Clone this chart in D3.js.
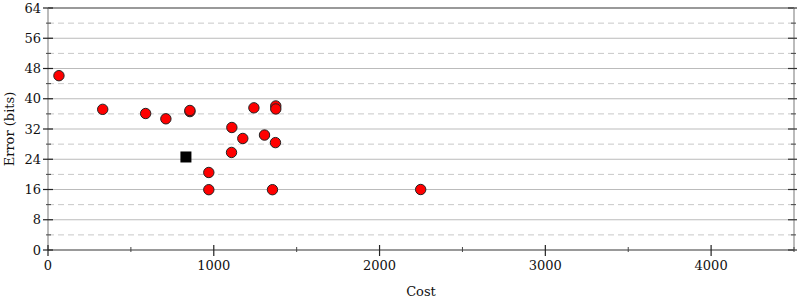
<!DOCTYPE html>
<html lang="en">
<head>
<meta charset="utf-8">
<script src="https://d3js.org/d3.v7.min.js"></script>
<style type="text/css">
body{
  margin: 0;
  padding: 0;
  background: white;
}
text{
  font-family: "DejaVu Serif", serif;
}
</style>
</head>
<body>
<div id="chart"></div>

<script type="text/javascript">

// red circles: cost vs error
var costs  = [66, 330, 589, 711, 856, 856, 1109, 1175, 1242, 1306, 1374, 1374, 1372, 1107, 970, 970, 1354, 2248];
var errors = [46.1, 37.2, 36.1, 34.7, 36.6, 36.9, 32.4, 29.5, 37.6, 30.4, 38.1, 37.3, 28.4, 25.8, 20.5, 15.95, 15.95, 16.0];

// black square
var refCost = [832];
var refError = [24.6];

var xTicks = [0, 1000, 2000, 3000, 4000];
var xMinor = [500, 1500, 2500, 3500, 4500];
var yTicks = [0, 8, 16, 24, 32, 40, 48, 56, 64];
var yMinor = [4, 12, 20, 28, 36, 44, 52, 60];

var width = 800, height = 300;
var padL = 48, padR = 794, padT = 8, padB = 250;

var svg = d3.select("#chart").append("svg")
  .attr("width", width)
  .attr("height", height);

var x = d3.scaleLinear().domain([0, 4500]).range([padL, padR]);
var y = d3.scaleLinear().domain([0, 64]).range([padB, padT]);

// grid
svg.selectAll(".gmin").data(yMinor).enter().append("line")
  .attr("x1", padL).attr("x2", padR)
  .attr("y1", d => y(d)).attr("y2", d => y(d))
  .attr("stroke", "#c8c8c8").attr("stroke-width", 1)
  .attr("stroke-dasharray", "6,4");

svg.selectAll(".gmaj").data(yTicks.slice(1, -1)).enter().append("line")
  .attr("x1", padL).attr("x2", padR)
  .attr("y1", d => y(d)).attr("y2", d => y(d))
  .attr("stroke", "#bbbbbb").attr("stroke-width", 1);

// frame
svg.append("line").attr("x1", padL).attr("x2", padR).attr("y1", padT).attr("y2", padT)
  .attr("stroke", "#999").attr("stroke-width", 2);
svg.append("line").attr("x1", padR).attr("x2", padR).attr("y1", padT).attr("y2", padB)
  .attr("stroke", "#bbb").attr("stroke-width", 2);
svg.append("line").attr("x1", padL).attr("x2", padL).attr("y1", padT).attr("y2", padB)
  .attr("stroke", "#bbb").attr("stroke-width", 2);
svg.append("line").attr("x1", padL).attr("x2", padR).attr("y1", padB).attr("y2", padB)
  .attr("stroke", "#999").attr("stroke-width", 2);

// y ticks left
svg.selectAll(".ytk").data(yTicks).enter().append("line")
  .attr("x1", padL - 5).attr("x2", padL + 5)
  .attr("y1", d => y(d)).attr("y2", d => y(d))
  .attr("stroke", "#222").attr("stroke-width", 1.2);
svg.selectAll(".ytm").data(yMinor).enter().append("line")
  .attr("x1", padL - 2).attr("x2", padL + 3)
  .attr("y1", d => y(d)).attr("y2", d => y(d))
  .attr("stroke", "#444").attr("stroke-width", 1);

// y ticks right
svg.selectAll(".ytr").data(yTicks).enter().append("line")
  .attr("x1", padR - 6).attr("x2", padR + 3)
  .attr("y1", d => y(d)).attr("y2", d => y(d))
  .attr("stroke", "#333").attr("stroke-width", 1.2);
svg.selectAll(".ytrm").data(yMinor).enter().append("line")
  .attr("x1", padR - 3).attr("x2", padR + 2)
  .attr("y1", d => y(d)).attr("y2", d => y(d))
  .attr("stroke", "#444").attr("stroke-width", 1);

// x ticks
svg.selectAll(".xtk").data(xTicks).enter().append("line")
  .attr("x1", d => x(d)).attr("x2", d => x(d))
  .attr("y1", padB - 5).attr("y2", padB + 6)
  .attr("stroke", "#222").attr("stroke-width", 1.2);
svg.selectAll(".xtm").data(xMinor).enter().append("line")
  .attr("x1", d => x(d)).attr("x2", d => x(d))
  .attr("y1", padB - 3).attr("y2", padB + 2)
  .attr("stroke", "#444").attr("stroke-width", 1);

// labels
svg.selectAll(".ylab").data(yTicks).enter().append("text")
  .attr("x", padL - 7).attr("y", d => y(d))
  .attr("dy", "0.35em")
  .attr("text-anchor", "end")
  .attr("font-size", 13)
  .attr("fill", "#111")
  .text(d => d);

svg.selectAll(".xlab").data(xTicks).enter().append("text")
  .attr("x", d => x(d)).attr("y", padB + 20)
  .attr("text-anchor", "middle")
  .attr("font-size", 13)
  .attr("fill", "#111")
  .text(d => d);

svg.append("text")
  .attr("x", (padL + padR) / 2).attr("y", 296)
  .attr("text-anchor", "middle")
  .attr("font-size", 13)
  .attr("fill", "#111")
  .text("Cost");

svg.append("text")
  .attr("transform", "translate(14," + ((padT + padB) / 2) + ") rotate(-90)")
  .attr("text-anchor", "middle")
  .attr("font-size", 13)
  .attr("fill", "#111")
  .text("Error (bits)");

// points
svg.selectAll(".pt").data(costs).enter().append("circle")
  .attr("cx", d => x(d))
  .attr("cy", (d, i) => y(errors[i]))
  .attr("r", 5.2)
  .attr("fill", "#ff0000")
  .attr("stroke", "#222")
  .attr("stroke-width", 1);

svg.selectAll(".sq").data(refCost).enter().append("rect")
  .attr("x", d => x(d) - 5.5)
  .attr("y", (d, i) => y(refError[i]) - 5.5)
  .attr("width", 11).attr("height", 11)
  .attr("fill", "#000");

</script>
</body>
</html>
